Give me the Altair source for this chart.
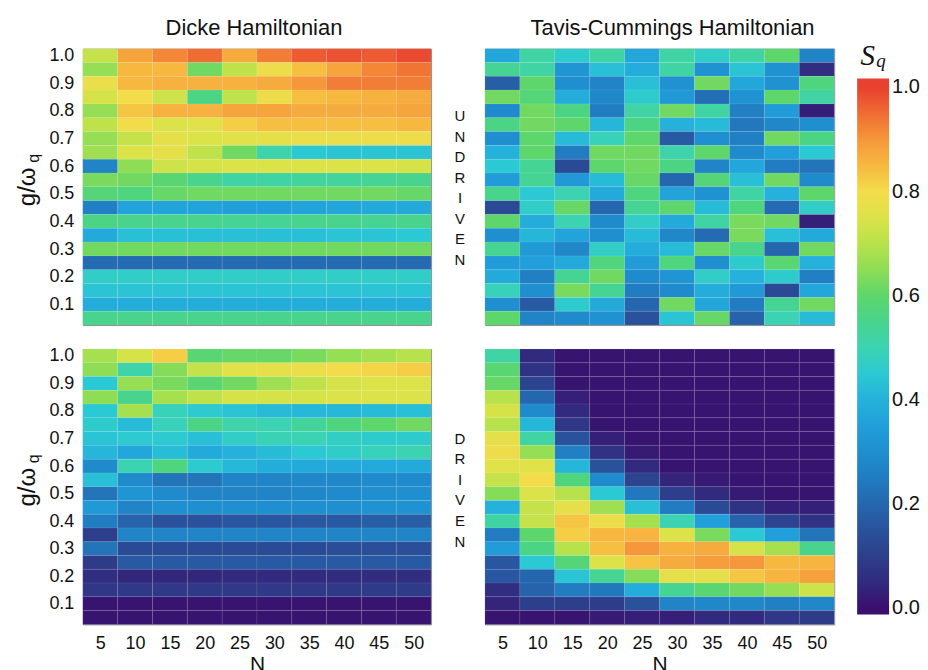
import altair as alt
import pandas as pd

FONT = "Liberation Sans"
SERIF = "Liberation Serif"

N_VALUES = [5, 10, 15, 20, 25, 30, 35, 40, 45, 50]
G_VALUES = [1.0, 0.95, 0.9, 0.85, 0.8, 0.75, 0.7, 0.65, 0.6, 0.55,
            0.5, 0.45, 0.4, 0.35, 0.3, 0.25, 0.2, 0.15, 0.1, 0.05]
Y_TICKS = [0.1, 0.2, 0.3, 0.4, 0.5, 0.6, 0.7, 0.8, 0.9, 1.0]
CBAR_TICKS = [0.0, 0.2, 0.4, 0.6, 0.8, 1.0]

# rows: g = 1.0 (top) ... 0.05 (bottom); columns: N = 5 ... 50
DICKE_UNDRIVEN = [
    [0.72, 0.88, 0.92, 0.95, 0.87, 0.93, 0.97, 0.98, 0.97, 0.99],
    [0.66, 0.85, 0.85, 0.62, 0.71, 0.79, 0.84, 0.88, 0.92, 0.94],
    [0.78, 0.85, 0.86, 0.86, 0.86, 0.87, 0.90, 0.93, 0.93, 0.93],
    [0.74, 0.80, 0.73, 0.56, 0.71, 0.79, 0.84, 0.85, 0.86, 0.87],
    [0.66, 0.83, 0.86, 0.86, 0.88, 0.88, 0.87, 0.87, 0.87, 0.88],
    [0.71, 0.80, 0.75, 0.76, 0.82, 0.84, 0.84, 0.84, 0.84, 0.85],
    [0.66, 0.72, 0.77, 0.75, 0.76, 0.77, 0.78, 0.78, 0.79, 0.79],
    [0.67, 0.75, 0.77, 0.71, 0.62, 0.51, 0.45, 0.44, 0.44, 0.44],
    [0.27, 0.65, 0.73, 0.74, 0.75, 0.75, 0.75, 0.75, 0.75, 0.74],
    [0.63, 0.62, 0.59, 0.55, 0.52, 0.52, 0.53, 0.53, 0.54, 0.55],
    [0.58, 0.57, 0.61, 0.62, 0.62, 0.62, 0.62, 0.62, 0.62, 0.61],
    [0.26, 0.36, 0.36, 0.36, 0.35, 0.35, 0.36, 0.37, 0.38, 0.38],
    [0.56, 0.55, 0.55, 0.55, 0.54, 0.54, 0.55, 0.55, 0.54, 0.55],
    [0.38, 0.43, 0.43, 0.43, 0.43, 0.43, 0.43, 0.44, 0.44, 0.45],
    [0.62, 0.62, 0.62, 0.62, 0.62, 0.62, 0.62, 0.62, 0.62, 0.62],
    [0.21, 0.21, 0.21, 0.21, 0.21, 0.21, 0.21, 0.21, 0.21, 0.21],
    [0.47, 0.47, 0.47, 0.47, 0.47, 0.47, 0.47, 0.47, 0.47, 0.47],
    [0.44, 0.44, 0.44, 0.44, 0.44, 0.44, 0.44, 0.44, 0.44, 0.44],
    [0.39, 0.39, 0.39, 0.39, 0.39, 0.39, 0.39, 0.39, 0.39, 0.39],
    [0.55, 0.55, 0.55, 0.55, 0.55, 0.55, 0.55, 0.55, 0.55, 0.55],
]

TC_UNDRIVEN = [
    [0.37, 0.52, 0.46, 0.52, 0.37, 0.52, 0.47, 0.52, 0.60, 0.27],
    [0.54, 0.52, 0.32, 0.43, 0.39, 0.52, 0.31, 0.44, 0.31, 0.06],
    [0.18, 0.60, 0.30, 0.27, 0.43, 0.31, 0.62, 0.37, 0.31, 0.57],
    [0.62, 0.58, 0.39, 0.28, 0.46, 0.33, 0.22, 0.31, 0.60, 0.52],
    [0.29, 0.62, 0.56, 0.25, 0.52, 0.62, 0.52, 0.26, 0.34, 0.03],
    [0.56, 0.62, 0.60, 0.41, 0.56, 0.40, 0.42, 0.24, 0.28, 0.30],
    [0.30, 0.60, 0.42, 0.49, 0.60, 0.17, 0.30, 0.26, 0.62, 0.56],
    [0.40, 0.60, 0.25, 0.62, 0.62, 0.51, 0.60, 0.29, 0.35, 0.45],
    [0.45, 0.54, 0.13, 0.60, 0.62, 0.56, 0.27, 0.37, 0.25, 0.23],
    [0.34, 0.54, 0.33, 0.42, 0.61, 0.20, 0.58, 0.43, 0.62, 0.29],
    [0.55, 0.45, 0.50, 0.38, 0.57, 0.36, 0.31, 0.52, 0.40, 0.60],
    [0.13, 0.47, 0.61, 0.20, 0.54, 0.60, 0.42, 0.57, 0.21, 0.47],
    [0.60, 0.39, 0.50, 0.29, 0.47, 0.38, 0.52, 0.63, 0.62, 0.03],
    [0.30, 0.41, 0.36, 0.30, 0.42, 0.28, 0.21, 0.63, 0.43, 0.38],
    [0.54, 0.33, 0.28, 0.47, 0.39, 0.42, 0.61, 0.55, 0.20, 0.62],
    [0.34, 0.35, 0.38, 0.57, 0.34, 0.57, 0.30, 0.46, 0.59, 0.40],
    [0.38, 0.26, 0.54, 0.62, 0.29, 0.32, 0.47, 0.40, 0.46, 0.26],
    [0.49, 0.30, 0.63, 0.54, 0.25, 0.29, 0.39, 0.33, 0.13, 0.37],
    [0.30, 0.17, 0.46, 0.38, 0.20, 0.62, 0.37, 0.25, 0.54, 0.62],
    [0.60, 0.27, 0.29, 0.31, 0.15, 0.44, 0.61, 0.19, 0.50, 0.42],
]

DICKE_DRIVEN = [
    [0.68, 0.74, 0.82, 0.59, 0.61, 0.61, 0.63, 0.66, 0.68, 0.70],
    [0.65, 0.51, 0.64, 0.72, 0.76, 0.77, 0.78, 0.80, 0.81, 0.82],
    [0.45, 0.66, 0.63, 0.59, 0.62, 0.67, 0.71, 0.74, 0.75, 0.75],
    [0.65, 0.55, 0.68, 0.71, 0.74, 0.74, 0.74, 0.75, 0.75, 0.75],
    [0.45, 0.68, 0.49, 0.455, 0.44, 0.42, 0.415, 0.415, 0.42, 0.43],
    [0.46, 0.42, 0.49, 0.56, 0.51, 0.50, 0.53, 0.57, 0.60, 0.62],
    [0.44, 0.455, 0.455, 0.43, 0.47, 0.495, 0.50, 0.475, 0.46, 0.46],
    [0.41, 0.37, 0.425, 0.38, 0.40, 0.42, 0.45, 0.465, 0.49, 0.50],
    [0.29, 0.50, 0.57, 0.455, 0.415, 0.39, 0.38, 0.38, 0.38, 0.38],
    [0.43, 0.29, 0.23, 0.23, 0.27, 0.27, 0.28, 0.28, 0.29, 0.29],
    [0.23, 0.32, 0.29, 0.27, 0.27, 0.27, 0.28, 0.29, 0.30, 0.30],
    [0.33, 0.27, 0.30, 0.30, 0.30, 0.30, 0.30, 0.30, 0.31, 0.31],
    [0.25, 0.19, 0.15, 0.15, 0.16, 0.16, 0.165, 0.17, 0.18, 0.18],
    [0.10, 0.27, 0.27, 0.27, 0.27, 0.27, 0.27, 0.27, 0.27, 0.27],
    [0.23, 0.13, 0.13, 0.13, 0.13, 0.13, 0.13, 0.135, 0.14, 0.14],
    [0.09, 0.17, 0.17, 0.17, 0.17, 0.17, 0.17, 0.17, 0.17, 0.17],
    [0.06, 0.045, 0.045, 0.045, 0.05, 0.05, 0.05, 0.055, 0.055, 0.06],
    [0.08, 0.085, 0.085, 0.085, 0.085, 0.085, 0.085, 0.085, 0.09, 0.09],
    [0.01, 0.01, 0.01, 0.01, 0.01, 0.01, 0.01, 0.01, 0.01, 0.01],
    [0.01, 0.01, 0.01, 0.01, 0.01, 0.01, 0.01, 0.01, 0.01, 0.01],
]

TC_DRIVEN = [
    [0.52, 0.05, 0.01, 0.01, 0.01, 0.01, 0.01, 0.01, 0.01, 0.01],
    [0.59, 0.07, 0.01, 0.01, 0.01, 0.01, 0.01, 0.01, 0.01, 0.01],
    [0.61, 0.11, 0.01, 0.01, 0.01, 0.01, 0.01, 0.01, 0.01, 0.01],
    [0.70, 0.20, 0.03, 0.01, 0.01, 0.01, 0.01, 0.01, 0.01, 0.01],
    [0.74, 0.29, 0.05, 0.01, 0.01, 0.01, 0.01, 0.01, 0.01, 0.01],
    [0.70, 0.41, 0.08, 0.01, 0.01, 0.01, 0.01, 0.01, 0.01, 0.01],
    [0.77, 0.52, 0.15, 0.03, 0.01, 0.01, 0.01, 0.01, 0.01, 0.01],
    [0.79, 0.66, 0.26, 0.07, 0.02, 0.01, 0.01, 0.01, 0.01, 0.01],
    [0.76, 0.76, 0.41, 0.15, 0.05, 0.01, 0.01, 0.01, 0.01, 0.01],
    [0.72, 0.80, 0.57, 0.29, 0.11, 0.04, 0.02, 0.01, 0.01, 0.01],
    [0.64, 0.75, 0.70, 0.45, 0.24, 0.10, 0.05, 0.02, 0.01, 0.01],
    [0.40, 0.72, 0.77, 0.67, 0.43, 0.25, 0.13, 0.07, 0.03, 0.03],
    [0.52, 0.72, 0.83, 0.79, 0.68, 0.50, 0.35, 0.19, 0.11, 0.07],
    [0.25, 0.60, 0.82, 0.85, 0.855, 0.75, 0.63, 0.45, 0.35, 0.23],
    [0.34, 0.56, 0.70, 0.84, 0.90, 0.86, 0.87, 0.74, 0.68, 0.55],
    [0.16, 0.45, 0.58, 0.75, 0.835, 0.87, 0.89, 0.90, 0.85, 0.855],
    [0.16, 0.20, 0.44, 0.54, 0.64, 0.77, 0.77, 0.83, 0.855, 0.885],
    [0.06, 0.19, 0.25, 0.24, 0.39, 0.54, 0.59, 0.62, 0.66, 0.73],
    [0.04, 0.10, 0.10, 0.095, 0.15, 0.27, 0.28, 0.28, 0.26, 0.28],
    [0.01, 0.01, 0.01, 0.02, 0.03, 0.03, 0.05, 0.05, 0.08, 0.09],
]

# colour map (the bar runs slightly past 0 and 1)
CMAP_STOPS = [-0.0115, 0.0, 0.05, 0.1, 0.15, 0.2, 0.25, 0.3, 0.35, 0.4, 0.45, 0.5,
              0.55, 0.6, 0.65, 0.7, 0.75, 0.8, 0.85, 0.9, 0.95, 1.0, 1.017]
CMAP_COLORS = ["#3a0f6e", "#3a0f6e", "#322a7e", "#2d3f8c", "#2a529c", "#2567ae",
               "#217cc1", "#1f8fcf", "#219fda", "#25b1db", "#2bc9d3", "#3bd3b2",
               "#48d48c", "#5dd66b", "#8edd55", "#b8e24b", "#dce349", "#f3dc4a",
               "#f7b840", "#f5973a", "#ef6c33", "#e8412f", "#e8412f"]


def to_long(rows):
    recs = []
    for g, row in zip(G_VALUES, rows):
        for n, s in zip(N_VALUES, row):
            recs.append({"N": n, "g": g, "S": s})
    return pd.DataFrame(recs)


color_scale = alt.Scale(domain=CMAP_STOPS, range=CMAP_COLORS, interpolate="rgb")
legend = alt.Legend(
    title=None, orient="none", legendX=776, legendY=30, direction="vertical",
    gradientLength=537, gradientThickness=32, values=CBAR_TICKS, format=".1f",
    labelFontSize=20, labelOffset=3, labelFont=FONT, labelColor="#111111",
    labelBaseline="middle", padding=0, gradientStrokeWidth=0,
)


def heat(rows, show_x, show_y):
    xaxis = alt.Axis(values=N_VALUES, format="d", title="N", labelFontSize=18,
                     labelPadding=10, tickSize=0, titleFontSize=21, titlePadding=1,
                     labelFlush=False) if show_x else None
    yaxis = alt.Axis(values=Y_TICKS, format=".1f", title=None, labelFontSize=18,
                     labelPadding=9, tickSize=0, labelFlush=False) if show_y else None
    return alt.Chart(to_long(rows)).transform_calculate(
        x0="datum.N - 2.5", x1="datum.N + 2.5",
        y0="datum.g - 0.025", y1="datum.g + 0.025",
    ).mark_rect(stroke="white", strokeWidth=0.6, strokeOpacity=0.12).encode(
        x=alt.X("x0:Q", scale=alt.Scale(domain=[2.5, 52.5], nice=False, zero=False), axis=xaxis),
        x2="x1:Q",
        y=alt.Y("y0:Q", scale=alt.Scale(domain=[0.025, 1.025], nice=False, zero=False), axis=yaxis),
        y2="y1:Q",
        color=alt.Color("S:Q", scale=color_scale, legend=legend),
        tooltip=["N:Q", "g:Q", "S:Q"],
    )


ONE = alt.Data(values=[{"k": 1}])


def note(text, x, y, size, **kw):
    return alt.Chart(ONE).mark_text(text=text, fontSize=size, color="#111111", **kw).encode(
        x=alt.value(x), y=alt.value(y))


def ylabel():
    return [
        note("g/ω", -55, 138.5, 24, angle=270, font=FONT, align="center", baseline="middle"),
        note("q", -49, 110, 16, angle=270, font=FONT, align="center", baseline="middle"),
    ]


tl = alt.layer(
    heat(DICKE_UNDRIVEN, False, True), *ylabel(),
    note("Dicke Hamiltonian", 171.5, -13.5, 22, font=FONT, align="center", baseline="alphabetic"),
).properties(width=349, height=277)

tr = alt.layer(
    heat(TC_UNDRIVEN, False, False),
    note("U\nN\nD\nR\nI\nV\nE\nN", -25, 68, 15, font=FONT, lineBreak="\n",
         lineHeight=20.5, align="center", baseline="middle"),
    note("Tavis-Cummings Hamiltonian", 188, -13.5, 22, font=FONT, align="center",
         baseline="alphabetic"),
    note("S", 383.5, 16, 29, font=SERIF, fontStyle="italic", align="center", baseline="alphabetic"),
    note("q", 397, 18.5, 19, font=SERIF, fontStyle="italic", align="center", baseline="alphabetic"),
).properties(width=350, height=277)

bl = alt.layer(heat(DICKE_DRIVEN, True, True), *ylabel()).properties(width=349, height=276)

br = alt.layer(
    heat(TC_DRIVEN, True, False),
    note("D\nR\nI\nV\nE\nN", -25, 90, 15, font=FONT, lineBreak="\n",
         lineHeight=20.6, align="center", baseline="middle"),
).properties(width=350, height=276)

chart = alt.concat(
    tl, tr, bl, br, columns=2, spacing={"row": 24, "column": 54}, bounds="flush",
).properties(
    padding={"left": 7, "top": 8, "right": 0, "bottom": 0},
    background="white",
).configure_view(
    stroke="#8c8c8c", strokeWidth=1,
).configure_axis(
    grid=False, domain=False, ticks=False, labelFont=FONT, titleFont=FONT,
    labelColor="#111111", titleColor="#111111", titleFontWeight="normal",
)

chart.save("out.html", embed_options={"renderer": "svg", "actions": False})
